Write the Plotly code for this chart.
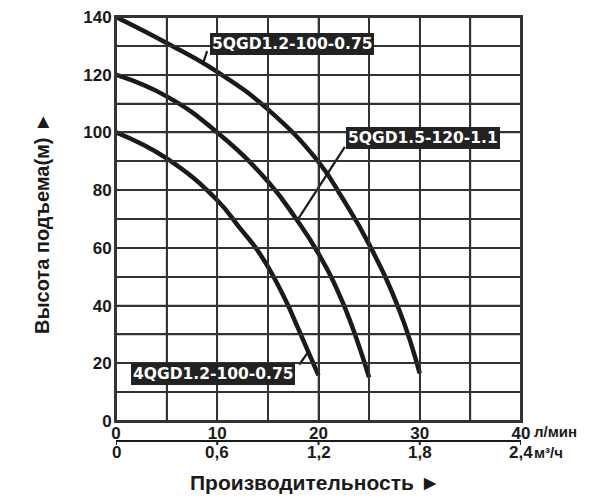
import plotly.graph_objects as go

GRID = "#333333"
INK = "#1a1a1a"
BOX = "#222222"
FONT = "Liberation Sans"
BOX_FONT = "DejaVu Sans"

# pump curves: flow (l/min) vs head (m)
models = ["5QGD1.2-100-0.75", "5QGD1.5-120-1.1", "4QGD1.2-100-0.75"]

flow_5qgd12 = [0, 5, 10, 15, 20, 22.4, 25, 28, 30]
head_5qgd12 = [140, 131, 121, 108, 89.8, 77, 61.2, 38.2, 16.5]

flow_5qgd15 = [0, 5, 10, 15, 17.8, 20, 22.4, 25]
head_5qgd15 = [120, 112.5, 100, 83, 70, 58, 41, 15.1]

flow_4qgd12 = [0, 5, 10, 12.2, 13.7, 15, 16.8, 18, 20]
head_4qgd12 = [100, 91, 76.5, 67, 60.5, 53.5, 41.5, 32, 15.8]

# leader lines from label box to its curve
leader_5qgd12_x = [9.0, 8.6]
leader_5qgd12_y = [128.2, 124.0]
leader_5qgd15_x = [22.6, 17.9]
leader_5qgd15_y = [95.0, 69.5]
leader_4qgd12_x = [18.1, 19.1]
leader_4qgd12_y = [19.5, 24.5]

# label box centres (data coords)
label_x = [17.34, 30.34, 9.56]
label_y = [130.7, 98.0, 16.2]

# axis ticks: grid every 5 l/min and 10 m, labels every 10 l/min and 20 m
flow_grid = [0, 5, 10, 15, 20, 25, 30, 35, 40]
flow_labels = ["0", "", "10", "", "20", "", "30", "", "40"]
head_grid = [0, 10, 20, 30, 40, 50, 60, 70, 80, 90, 100, 110, 120, 130, 140]
head_labels = ["0", "", "20", "", "40", "", "60", "", "80", "", "100", "",
               "120", "", "140"]

# second flow scale in m3/h
m3h_ticks = [0, 0.6, 1.2, 1.8, 2.4]
m3h_labels = ["0", "0,6", "1,2", "1,8", "2,4"]

Y_DOMAIN = [0.1755, 1]

fig = go.Figure()

for fx, hy in [(flow_5qgd12, head_5qgd12), (flow_5qgd15, head_5qgd15),
               (flow_4qgd12, head_4qgd12)]:
    fig.add_trace(go.Scatter(
        x=fx, y=hy, mode="lines", cliponaxis=False,
        line=dict(color=INK, width=4.5, shape="spline", smoothing=1.3),
        showlegend=False, hoverinfo="skip",
    ))

for lx, ly in [(leader_5qgd12_x, leader_5qgd12_y),
               (leader_5qgd15_x, leader_5qgd15_y),
               (leader_4qgd12_x, leader_4qgd12_y)]:
    fig.add_trace(go.Scatter(
        x=lx, y=ly, mode="lines", cliponaxis=False,
        line=dict(color=INK, width=2.2),
        showlegend=False, hoverinfo="skip",
    ))

# grid and frame as shapes, each tied to one axis and the paper
for f in flow_grid:
    fig.add_shape(type="line", xref="x", yref="paper", x0=f, x1=f,
                  y0=Y_DOMAIN[0], y1=Y_DOMAIN[1],
                  line=dict(color=GRID, width=1.6))
for h in head_grid:
    fig.add_shape(type="line", xref="paper", yref="y", x0=0, x1=1,
                  y0=h, y1=h, line=dict(color=GRID, width=1.6))
fig.add_shape(type="rect", xref="paper", yref="paper", x0=0, x1=1,
              y0=Y_DOMAIN[0], y1=Y_DOMAIN[1],
              line=dict(color=GRID, width=2))

for name, lx, ly in zip(models, label_x, label_y):
    fig.add_annotation(
        x=lx, y=ly, text=name, showarrow=False,
        xanchor="center", yanchor="middle",
        font=dict(family=BOX_FONT, size=15.5, color="white", weight="bold"),
        bgcolor=BOX, bordercolor=BOX, borderwidth=1, borderpad=1,
    )

axis_font = dict(family=FONT, size=17, color=INK, weight="bold")

fig.update_layout(
    width=600, height=499,
    margin=dict(l=108, r=87, t=9, b=0),
    plot_bgcolor="white", paper_bgcolor="white",
    xaxis=dict(
        range=[0, 40], tickmode="array", tickvals=flow_grid,
        ticktext=flow_labels, ticks="", ticklabelstandoff=-4,
        ticklabeloverflow="allow",
        showgrid=True, gridcolor=GRID, gridwidth=1.6,
        showline=True, linecolor=GRID, linewidth=2, mirror=True,
        zeroline=False, tickfont=axis_font, automargin=False,
    ),
    yaxis=dict(
        range=[0, 140], tickmode="array", tickvals=head_grid,
        ticktext=head_labels, ticks="", ticklabelstandoff=-1,
        ticklabeloverflow="allow",
        domain=Y_DOMAIN,
        showgrid=True, gridcolor=GRID, gridwidth=1.6,
        showline=True, linecolor=GRID, linewidth=2, mirror=True,
        zeroline=False, tickfont=axis_font, automargin=False,
    ),
)

# secondary scale: line, ticks and labels placed at the equivalent l/min
scale_y = 0.1347
fig.add_shape(type="line", xref="x", yref="paper", x0=0, x1=40,
              y0=scale_y, y1=scale_y, line=dict(color=INK, width=2))
for val, txt in zip(m3h_ticks, m3h_labels):
    pos = val * 1000 / 60
    fig.add_shape(type="line", xref="x", yref="paper", x0=pos, x1=pos,
                  y0=scale_y, y1=scale_y - 0.008, line=dict(color=INK, width=2))
    fig.add_annotation(x=pos, y=0.1112, xref="x", yref="paper",
                       xanchor="center", yanchor="middle", text=txt,
                       showarrow=False, font=axis_font)

fig.add_annotation(x=1.0, y=0.1531, xref="paper", yref="paper",
                   xanchor="left", yanchor="middle", xshift=11,
                   text="л/мин", showarrow=False,
                   font=dict(family=FONT, size=15, color=INK, weight="bold"))
fig.add_annotation(x=1.0, y=0.1112, xref="paper", yref="paper",
                   xanchor="left", yanchor="middle", xshift=11,
                   text="м³/ч", showarrow=False,
                   font=dict(family=FONT, size=15, color=INK, weight="bold"))

fig.add_annotation(x=0.491, y=0.0510, xref="paper", yref="paper",
                   xanchor="center", yanchor="middle",
                   text="Производительность ►", showarrow=False,
                   font=dict(family=FONT, size=21, color=INK, weight="bold"))
fig.add_annotation(x=-0.1827, y=0.5796, xref="paper", yref="paper",
                   xanchor="center", yanchor="middle",
                   text="Высота подъема(м) ►", showarrow=False, textangle=-90,
                   font=dict(family=FONT, size=20, color=INK, weight="bold"))

fig.write_html("out.html")
